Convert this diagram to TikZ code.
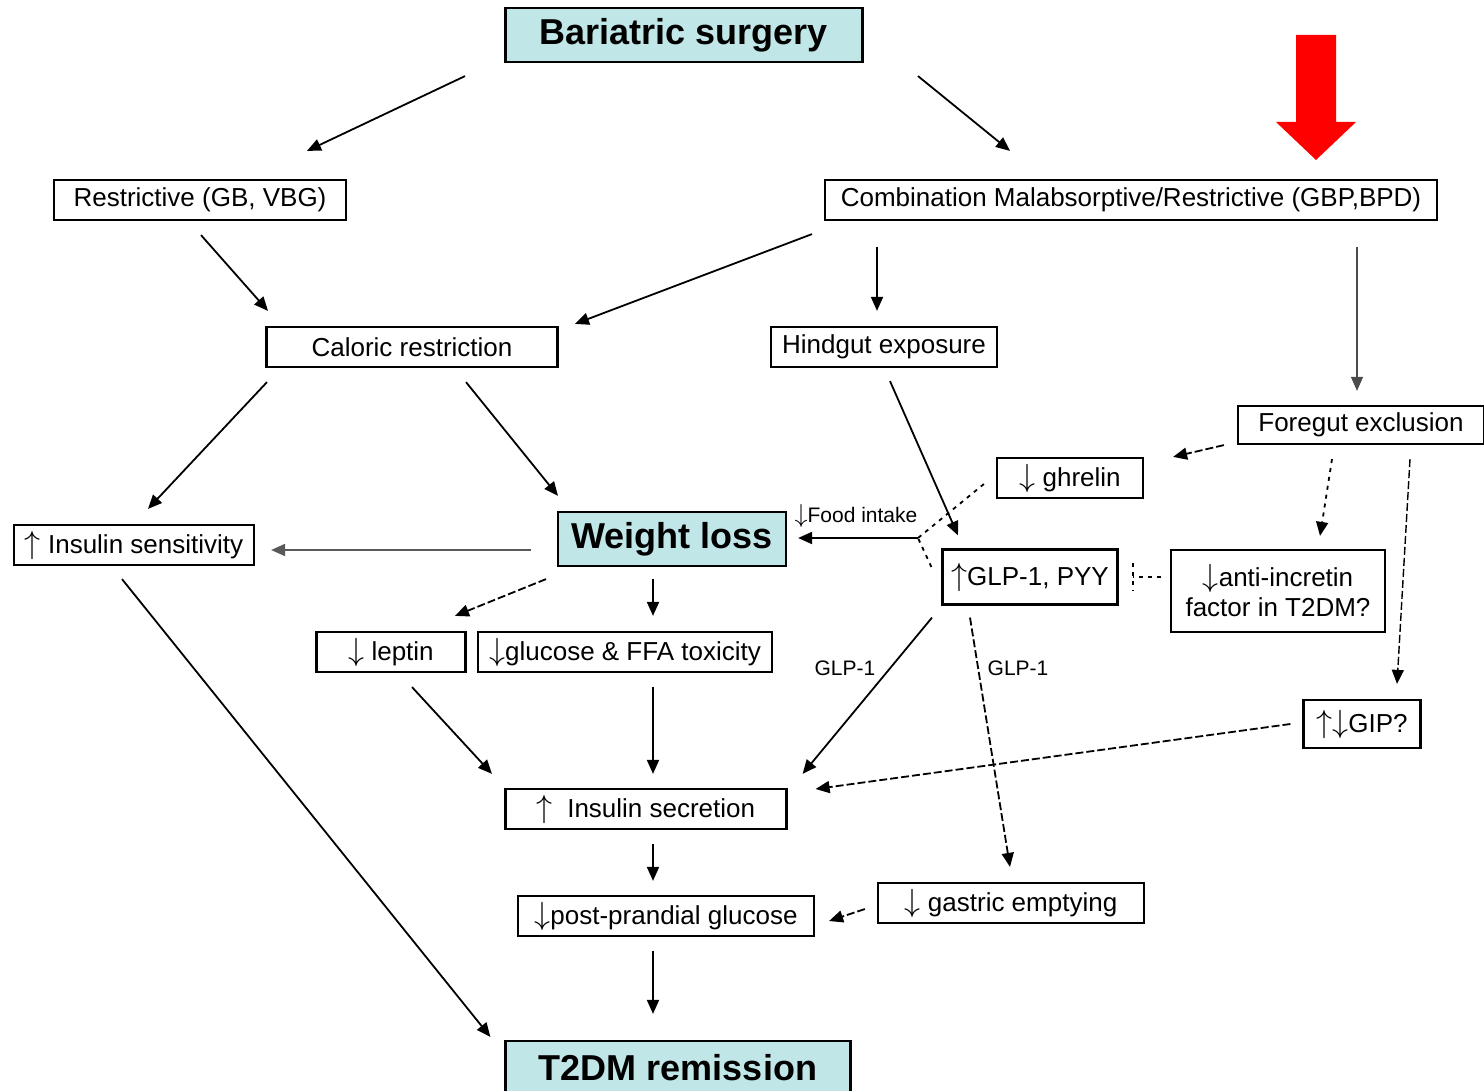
\RequirePackage{fix-cm}
\documentclass[tikz,border=0pt]{standalone}
\usepackage{fontspec}
\setmainfont{Liberation Sans}
\usetikzlibrary{arrows.meta,calc}
\definecolor{boxcyan}{RGB}{192,230,232}
\newcommand{\upar}{{\fontsize{16}{16}\selectfont$\uparrow$}}
\newcommand{\dnar}{{\fontsize{16}{16}\selectfont$\downarrow$}}
\begin{document}
\begin{tikzpicture}[x=0.5pt,y=-0.5pt,>={Triangle[length=7pt,width=6pt]},
	box/.style={draw,line width=1.1pt,inner sep=0pt,align=center,font=\fontsize{13}{15}\selectfont},
	keybox/.style={box,fill=boxcyan,font=\fontsize{18}{20}\selectfont\bfseries},
	arr/.style={->,line width=0.9pt},
	dasharr/.style={arr,dash pattern=on 4pt off 1.5pt},
	dotline/.style={line width=0.9pt,dash pattern=on 2pt off 2.5pt},
	lbl/.style={inner sep=0pt,font=\fontsize{10.5}{12}\selectfont}]
	\useasboundingbox (0,0) rectangle (1484,1091);
	%			\draw[thin,color=gray!20](0,0)grid[step=100](1484,1091);
	\node[keybox,minimum width=178.5pt,minimum height=27pt] (bs) at (684,35) {Bariatric surgery};
	\node[box,minimum width=146pt,minimum height=20pt] (rest) at (200,200) {Restrictive (GB, VBG)};
	\node[box,minimum width=306pt,minimum height=20pt] (comb) at (1131,200) {Combination Malabsorptive/Restrictive (GBP,BPD)};
	\node[box,minimum width=145.5pt,minimum height=20pt] (cal) at (412,347) {Caloric restriction};
	\node[box,minimum width=113pt,minimum height=20pt] (hind) at (884,347) {Hindgut exposure};
	\node[box,minimum width=123pt,minimum height=19pt] (fore) at (1361,425) {Foregut exclusion};
	\node[box,minimum width=73pt,minimum height=20pt] (ghr) at (1070,478) {\dnar\ ghrelin};
	\node[box,minimum width=120pt,minimum height=20pt] (isens) at (134,545) {\upar\ Insulin sensitivity};
	\node[keybox,minimum width=114pt,minimum height=27pt] (wl) at (672,539) {Weight loss};
	\node[box,minimum width=87.5pt,minimum height=27.5pt] (glp) at (1030,577) {\upar GLP-1, PYY};
	\node[box,minimum width=107pt,minimum height=41pt] (anti) at (1278,591) {\dnar anti-incretin\\factor in T2DM?};
	\node[box,minimum width=74.5pt,minimum height=20pt] (lep) at (391,652) {\dnar\ leptin};
	\node[box,minimum width=147pt,minimum height=20pt] (glu) at (625,652) {\dnar glucose \& FFA toxicity};
	\node[box,minimum width=58.5pt,minimum height=24pt] (gip) at (1362,724) {\upar\dnar GIP?};
	\node[box,minimum width=140.5pt,minimum height=20pt] (isec) at (646,809) {\upar~~Insulin secretion};
	\node[box,minimum width=148pt,minimum height=20pt] (ppg) at (666,916) {\dnar post-prandial glucose};
	\node[box,minimum width=133pt,minimum height=20pt] (gast) at (1011,903) {\dnar\ gastric emptying};
	\node[keybox,minimum width=172.5pt,minimum height=27pt] (t2) at (678,1068) {T2DM remission};
	\coordinate (fi) at (918,538);
	\node[lbl] (filbl) at (856,516) {{\fontsize{13}{13}\selectfont$\downarrow$}Food intake};
	\node[lbl] (glpa) at (845,668) {GLP-1};
	\node[lbl] (glpb) at (1018,668) {GLP-1};
	% red marker
	\fill[red] (1296,35)--(1336,35)--(1336,122)--(1356,122)--(1316,160)--(1276,122)--(1296,122)--cycle;
	% surgery types
	\draw[arr] ($(bs.south)+(-219,13)$)--($(rest.north)+(107,-28)$);
	\draw[arr] ($(bs.south)+(234,13)$)--($(comb.north)+(-121,-28)$);
	\draw[arr] ($(rest.south)+(1,14)$)--($(cal.north)+(-144,-15)$);
	\draw[arr] ($(comb.south)+(-319,13)$)--($(cal.north)+(163,-2)$);
	\draw[arr] ($(comb.south)+(-254,26)$)--($(hind.north)+(-7,-15)$);
	\draw[arr,line width=0.6pt,black!70] ($(comb.south)+(226,26)$)--($(fore.north)+(-4,-14)$);
	\draw[arr] ($(cal.south)+(-145,14)$)--($(isens.north)+(14,-15)$);
	\draw[arr] ($(cal.south)+(54,14)$)--($(wl.north)+(-114,-15)$);
	\draw[arr] ($(hind.south)+(6,13)$)--($(glp.north)+(-72,-13)$);
	% foregut
	\draw[dasharr] ($(fore.south west)+(-13,0)$)--($(ghr.north east)+(29,0)$);
	\draw[arr,dotline] ($(fore.south)+(-29,14)$)--($(anti.north)+(42,-13)$);
	\draw[dasharr,line width=0.7pt] ($(fore.south)+(49,14)$)--($(gip.north)+(35,-15)$);
	% food intake
	\draw[dotline] ($(ghr.west)+(-12,6)$)--(fi);
	\draw[dotline] ($(glp.west)+(-10,-10)$)--(fi);
	\draw[arr] (fi)--($(wl.east)+(11,-1)$);
	\draw[dotline] ($(glp.east)+(14,-14)$)--($(glp.east)+(14,14)$);
	\draw[dotline] ($(anti.west)+(-9,-14)$)--($(glp.east)+(14,0)$);
	% weight loss
	\draw[arr,black!65] ($(wl.west)+(-26,11)$)--($(isens.east)+(16,5)$);
	\draw[dasharr] ($(wl.south)+(-126,12)$)--($(lep.north)+(64,-15)$);
	\draw[arr] ($(wl.south)+(-19,12)$)--($(glu.north)+(28,-15)$);
	\draw[arr] ($(lep.south)+(21,14)$)--($(isec.north)+(-154,-14)$);
	\draw[arr] ($(glu.south)+(28,14)$)--($(isec.north)+(7,-14)$);
	% incretins
	\draw[arr] ($(glp.south)+(-98,12)$)--($(isec.north east)+(15,-14)$);
	\draw[dasharr] ($(glp.south)+(-60,12)$)--($(gast.north)+(-1,-15)$);
	\draw[dasharr] ($(gip.west)+(-12,0)$)--($(isec.east)+(28,-20)$);
	% outcome
	\draw[arr] ($(isec.south)+(7,14)$)--($(ppg.north)+(-13,-14)$);
	\draw[dasharr] ($(gast.west)+(-12,6)$)--($(ppg.east)+(14,5)$);
	\draw[arr] ($(ppg.south)+(-13,14)$)--($(t2.north)+(-25,-26)$);
	\draw[arr] ($(isens.south)+(-12,13)$)--($(t2.north west)+(-14,-3)$);
\end{tikzpicture}
\end{document}
